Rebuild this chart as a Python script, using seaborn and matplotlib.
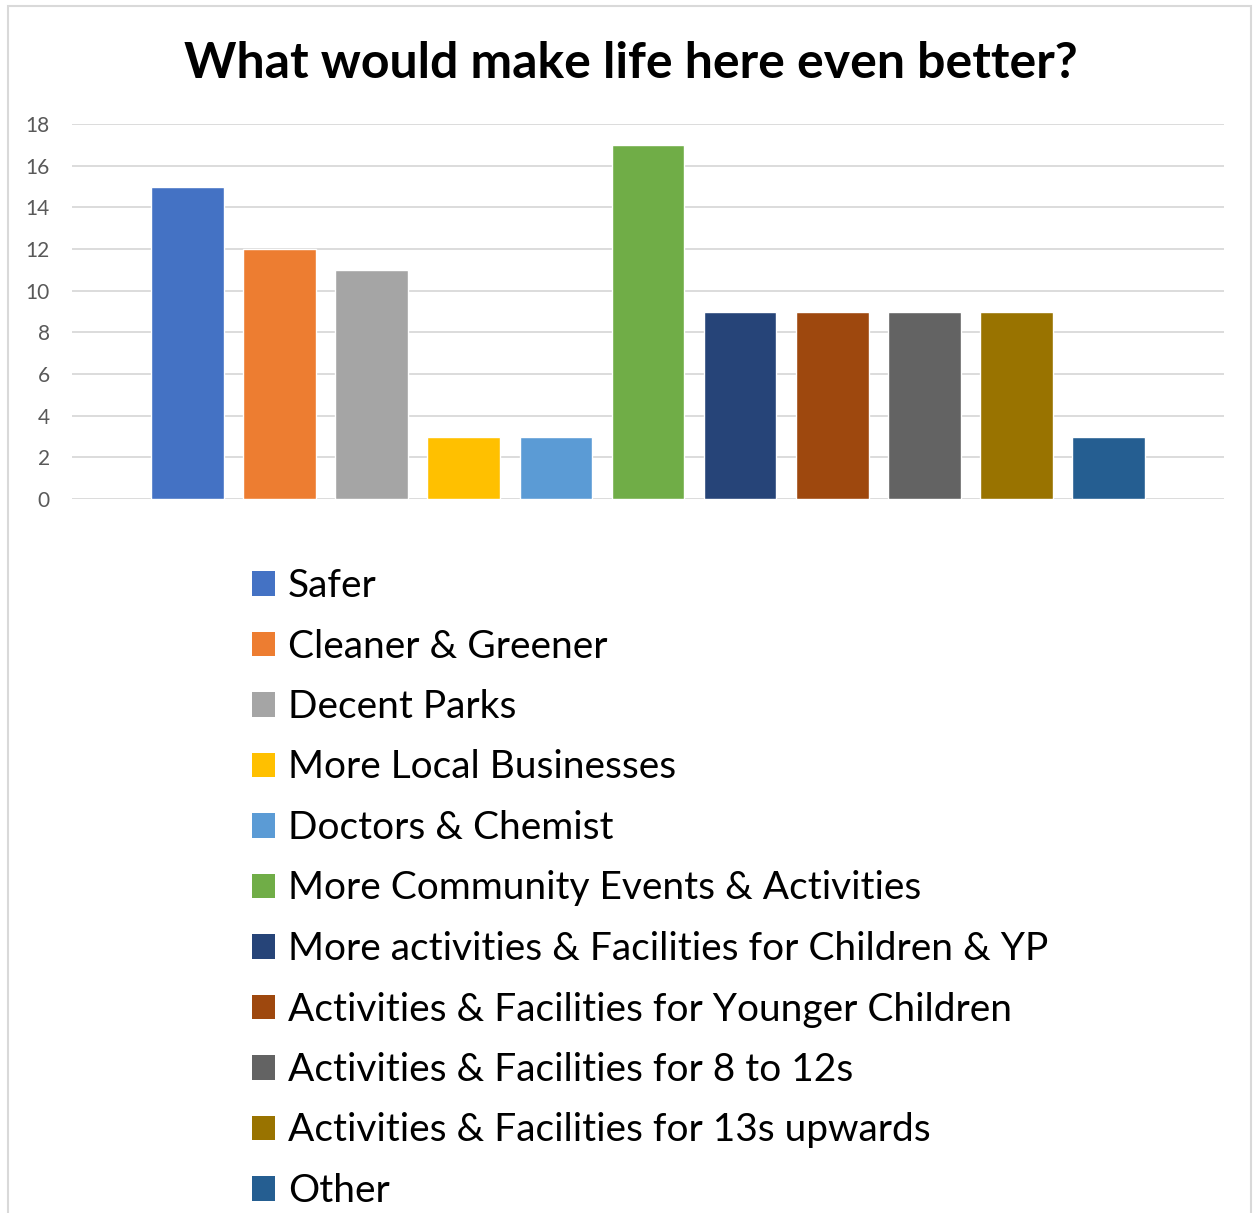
import matplotlib
matplotlib.use("Agg")
import matplotlib.pyplot as plt
import seaborn as sns
import pandas as pd
from matplotlib.patches import Rectangle

categories = ["Safer", "Cleaner & Greener", "Decent Parks", "More Local Businesses",
              "Doctors & Chemist", "More Community Events & Activities",
              "More activities & Facilities for Children & YP",
              "Activities & Facilities for Younger Children",
              "Activities & Facilities for 8 to 12s",
              "Activities & Facilities for 13s upwards", "Other"]
values = [15, 12, 11, 3, 3, 17, 9, 9, 9, 9, 3]
colors = ["#4472C4", "#ED7D31", "#A5A5A5", "#FFC000", "#5B9BD5", "#70AD47",
          "#264478", "#9E480E", "#636363", "#997300", "#255E91"]
yticks = [0, 2, 4, 6, 8, 10, 12, 14, 16, 18]
title = "What would make life here even better?"

sns.set_theme(style="white")
plt.rcParams['font.family'] = ['Lato', 'DejaVu Sans']

W, H = 1253, 1213
fig = plt.figure(figsize=(W / 100, H / 100), dpi=100)
ax = fig.add_axes([72 / W, 1 - 499 / H, (1224 - 72) / W, (499 - 124) / H])

df = pd.DataFrame({"cat": categories, "val": values})
sns.barplot(data=df, x="cat", y="val", hue="cat", palette=colors, order=categories,
            hue_order=categories, dodge=False, width=0.79, saturation=1, legend=False, ax=ax)

ax.set_xlim(-1.254, 11.254)
ax.set_ylim(0, 18)
ax.set_yticks(yticks)
ax.set_yticklabels([str(t) for t in yticks], color="#595959", fontsize=15)
ax.tick_params(axis="y", length=0, pad=16)
ax.set_xticks([])
ax.set_xlabel("")
ax.set_ylabel("")
ax.grid(axis="y", color="#D9D9D9", linewidth=1.3)
ax.set_axisbelow(True)
for s in ax.spines.values():
    s.set_visible(False)

fig.text(631 / W, 1 - 63 / H, title, ha="center", va="center", fontsize=36,
         fontweight="bold", color="black")

handles = [Rectangle((0, 0), 1, 1, facecolor=c, edgecolor="none") for c in colors]
fig.legend(handles, categories, loc="upper left",
           bbox_to_anchor=(252 / W, 1 - 568 / H), frameon=False,
           fontsize=28, labelcolor="black", handlelength=0.59, handleheight=0.59,
           handletextpad=0.33, labelspacing=0.63, borderaxespad=0, borderpad=0)

border = Rectangle((8 / W, -0.01), (1251 - 8) / W, 1 - 6 / H + 0.01, transform=fig.transFigure,
                   facecolor="none", edgecolor="#D9D9D9", linewidth=1.5)
fig.add_artist(border)

fig.savefig("out.png", dpi=100)
